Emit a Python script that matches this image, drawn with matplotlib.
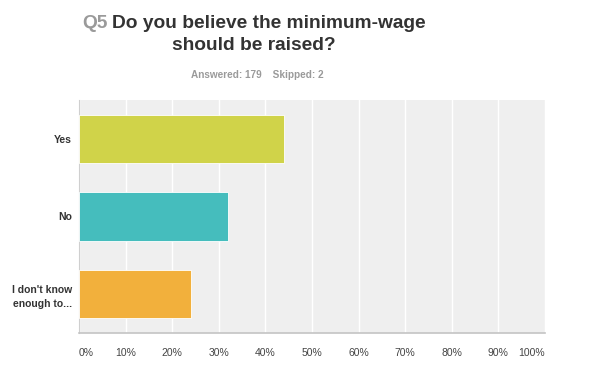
import matplotlib
matplotlib.use("Agg")
import matplotlib.pyplot as plt

categories = ["Yes", "No", "I don't know\nenough to..."]
values = [44, 32, 24]
ticks = [0, 10, 20, 30, 40, 50, 60, 70, 80, 90, 100]
tick_labels = [f"{t}%" for t in ticks]
answered, skipped = 179, 2

COLORS = ["#d0d349", "#45bdbd", "#f2b03c"]
plt.rcParams["font.family"] = ["Liberation Sans", "DejaVu Sans"]

fig = plt.figure(figsize=(6.1, 3.82), dpi=100)
ax = fig.add_axes([79 / 610, 1 - 333 / 382, 466 / 610, 233 / 382])
ax.set_facecolor("#efefef")

ypos = list(range(len(categories)))
ax.barh(ypos, values, height=0.62, color=COLORS, edgecolor="white", lw=0.6, zorder=3)
ax.set_ylim(len(categories) - 0.5, -0.5)
ax.set_xlim(0, 100)

ax.set_xticks(ticks)
ax.set_xticklabels(tick_labels, fontsize=7.5, color="#444")
for lab, t in zip(ax.get_xticklabels(), ticks):
    if t == 0:
        lab.set_ha("left")
    elif t == 100:
        lab.set_ha("right")
ax.tick_params(axis="x", length=0, pad=11)
ax.set_yticks(ypos)
ax.set_yticklabels(categories, fontsize=7.5, fontweight="bold", color="#333",
                   linespacing=1.45)
ax.tick_params(axis="y", length=0, pad=5)
ax.grid(axis="x", color="white", lw=1, zorder=1)
for s in ("top", "right"):
    ax.spines[s].set_visible(False)
ax.spines["left"].set_color("#cfcfcf")
ax.spines["bottom"].set_color("#c4c4c4")
ax.spines["bottom"].set_linewidth(1.2)

# title: grey "Q5" then dark question text
q = fig.text(82 / 610, 1 - 23 / 382, "Q5", fontsize=13.8, fontweight="bold",
             color="#9a9a9a", va="center", ha="left")
fig.canvas.draw()
ax.annotate("Do you believe the minimum-wage", xy=(1, 0.5), xycoords=q,
            xytext=(3, 0), textcoords="offset points", fontsize=13.8,
            fontweight="bold", color="#333", va="center", ha="left")
fig.text(254 / 610, 1 - 46 / 382, "should be raised?", fontsize=13.8,
         fontweight="bold", color="#333", va="center", ha="center")
fig.text(257 / 610, 1 - 75 / 382, f"Answered: {answered}    Skipped: {skipped}",
         fontsize=7.2, fontweight="bold", color="#9a9a9a", va="center", ha="center")

fig.savefig("out.png", dpi=100)
